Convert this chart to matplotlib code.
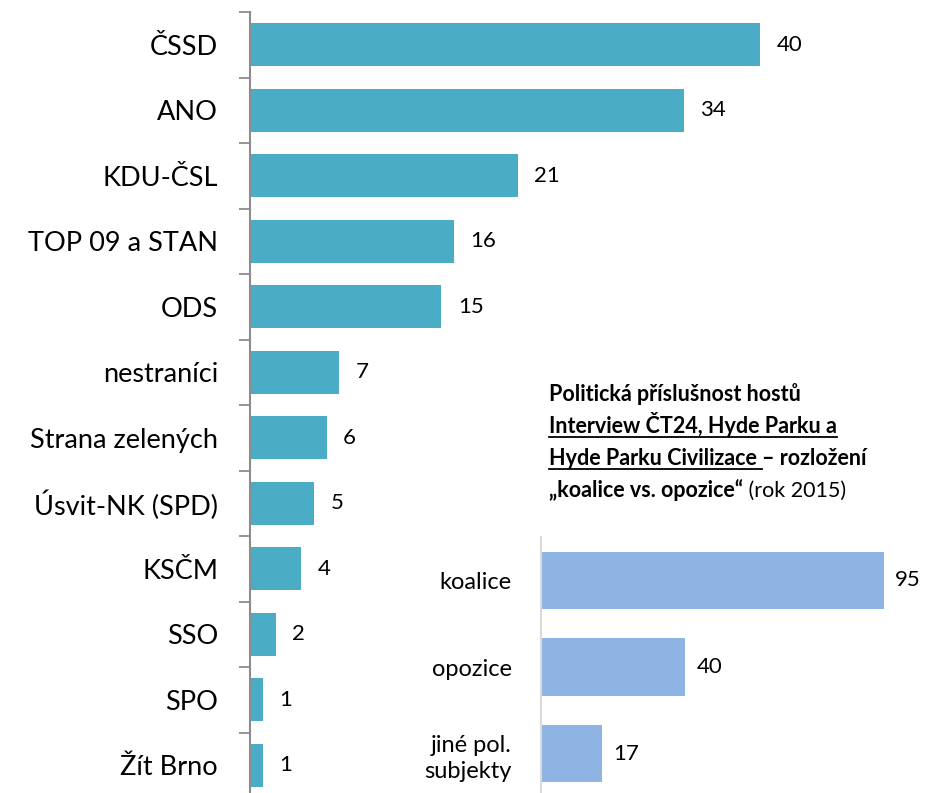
import matplotlib.pyplot as plt
import numpy as np

plt.rcParams['font.family'] = ['Lato', 'DejaVu Sans']

# main chart data
parties = ['ČSSD', 'ANO', 'KDU-ČSL', 'TOP 09 a STAN', 'ODS', 'nestraníci',
           'Strana zelených', 'Úsvit-NK (SPD)', 'KSČM', 'SSO', 'SPO', 'Žít Brno']
guests = [40, 34, 21, 16, 15, 7, 6, 5, 4, 2, 1, 1]

# inset data
blocs = ['koalice', 'opozice', 'jiné pol.\nsubjekty']
bloc_values = [95, 40, 17]

W, H = 939, 793
fig = plt.figure(figsize=(W / 100, H / 100), dpi=100)

# main horizontal bars
ax = fig.add_axes([250 / W, -5 / H, (W - 250) / W, 786 / H])
y = np.arange(len(parties))
ax.barh(y, guests, height=0.66, color='#4BACC6')
ax.set_ylim(len(parties) - 0.5, -0.5)
ax.set_xlim(0, (W - 250) / 12.75)
ax.set_yticks(y)
ax.set_yticklabels(parties, fontsize=19.5)
ax.set_yticks(np.arange(len(parties) + 1) - 0.5, minor=True)
ax.tick_params(axis='y', which='major', length=0, pad=23)
ax.tick_params(axis='y', which='minor', length=8, width=1.3, color='#8C8C8C')
ax.set_xticks([])
for s in ['top', 'right', 'bottom']:
    ax.spines[s].set_visible(False)
ax.spines['left'].set_color('#8C8C8C')
ax.spines['left'].set_linewidth(1.5)
for yi, v in zip(y, guests):
    ax.annotate(str(v), (v, yi), xytext=(12, 0), textcoords='offset points',
                va='center', ha='left', fontsize=16)

# inset chart
ax2 = fig.add_axes([541 / W, -4 / H, 397 / W, 260 / H])
y2 = np.arange(len(blocs))
ax2.barh(y2, bloc_values, height=0.66, color='#8EB4E3')
ax2.set_ylim(len(blocs) - 0.5, -0.5)
ax2.set_xlim(0, 110)
ax2.set_yticks(y2)
ax2.set_yticklabels(blocs, fontsize=17, linespacing=1.3)
ax2.tick_params(axis='y', length=0, pad=21)
ax2.set_xticks([])
for s in ['top', 'right', 'bottom']:
    ax2.spines[s].set_visible(False)
ax2.spines['left'].set_color('#D9D9D9')
ax2.spines['left'].set_linewidth(1.5)
for yi, v in zip(y2, bloc_values):
    ax2.annotate(str(v), (v, yi), xytext=(8, 0), textcoords='offset points',
                 va='center', ha='left', fontsize=16)

# inset title, mixed bold / regular / underlined pieces
title_lines = [
    [('Politická příslušnost hostů', 'bold', False)],
    [('Interview ČT24, Hyde Parku a', 'bold', True)],
    [('Hyde Parku Civilizace ', 'bold', True), ('– rozložení', 'bold', False)],
    [('„koalice vs. opozice“', 'bold', False), (' (rok 2015)', 'normal', False)],
]
renderer = fig.canvas.get_renderer()
x0, y0, dy = 549, 401, 32
for i, line in enumerate(title_lines):
    xpx = x0
    ypx = y0 + i * dy
    for txt, weight, under in line:
        t = fig.text(xpx / W, 1 - ypx / H, txt, fontsize=15.5, fontweight=weight,
                     va='baseline', ha='left')
        bb = t.get_window_extent(renderer)
        if under:
            yl = 1 - (ypx + 4) / H
            fig.add_artist(plt.Line2D([xpx / W, (xpx + bb.width) / W], [yl, yl],
                                      color='black', lw=1.3))
        xpx += bb.width

fig.savefig('out.png', dpi=100)
